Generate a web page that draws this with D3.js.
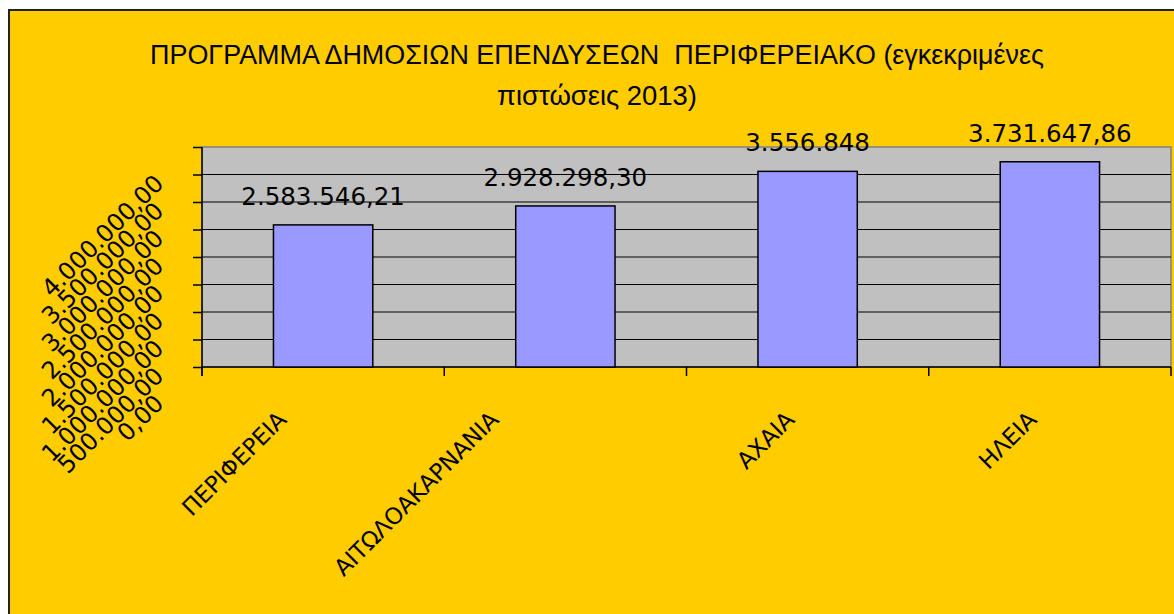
<!DOCTYPE html>
<html lang="el">
<head>
<meta charset="UTF-8">
<title>Πρόγραμμα Δημοσίων Επενδύσεων</title>
<script src="https://d3js.org/d3.v7.min.js"></script>
<style>
  html, body { margin: 0; padding: 0; background: #fff; }
  svg { display: block; }
</style>
</head>
<body>
<script>
// data
const categories = ["ΠΕΡΙΦΕΡΕΙΑ", "ΑΙΤΩΛΟΑΚΑΡΝΑΝΙΑ", "ΑΧΑΙΑ", "ΗΛΕΙΑ"];
const values = [2583546.21, 2928298.30, 3556848, 3731647.86];
const valueLabels = ["2.583.546,21", "2.928.298,30", "3.556.848", "3.731.647,86"];
const yTicks = [0, 500000, 1000000, 1500000, 2000000, 2500000, 3000000, 3500000, 4000000];
const titleLines = ["ΠΡΟΓΡΑΜΜΑ ΔΗΜΟΣΙΩΝ ΕΠΕΝΔΥΣΕΩΝ  ΠΕΡΙΦΕΡΕΙΑΚΟ (εγκεκριμένες", "πιστώσεις 2013)"];

const width = 1174, height = 614;
const plot = {left: 202, right: 1171, top: 147, bottom: 367};
const font = "'DejaVu Sans', sans-serif";

const gr = d3.formatLocale({decimal: ",", thousands: ".", grouping: [3], currency: ["", " €"]});
const fmt = gr.format(",.2f");

const svg = d3.select("body").append("svg")
    .attr("width", width)
    .attr("height", height);

// chart area
svg.append("rect")
    .attr("x", 9).attr("y", 10)
    .attr("width", width + 20).attr("height", height + 20)
    .attr("fill", "#FFCC00")
    .attr("stroke", "#222")
    .attr("stroke-width", 2);

// title
svg.append("text")
    .attr("x", 597).attr("y", 64)
    .attr("text-anchor", "middle")
    .attr("font-family", "'Liberation Sans', sans-serif")
    .attr("font-size", 27)
    .attr("textLength", 894)
    .attr("lengthAdjust", "spacingAndGlyphs")
    .style("white-space", "pre")
    .text(titleLines[0]);
svg.append("text")
    .attr("x", 597).attr("y", 105)
    .attr("text-anchor", "middle")
    .attr("font-family", "'Liberation Sans', sans-serif")
    .attr("font-size", 27)
    .attr("textLength", 200)
    .attr("lengthAdjust", "spacingAndGlyphs")
    .text(titleLines[1]);

const x = d3.scaleBand()
    .domain(categories)
    .range([plot.left, plot.right])
    .paddingInner(0.59)
    .paddingOuter(0.295);

const y = d3.scaleLinear()
    .domain([0, 4000000])
    .range([plot.bottom, plot.top]);

// plot background
svg.append("rect")
    .attr("x", plot.left).attr("y", plot.top)
    .attr("width", plot.right - plot.left)
    .attr("height", plot.bottom - plot.top)
    .attr("fill", "#C0C0C0")
    .attr("stroke", "#808080")
    .attr("stroke-width", 1.5);

// gridlines
svg.append("g")
    .selectAll("line")
    .data(yTicks.slice(1, -1))
    .join("line")
    .attr("x1", plot.left).attr("x2", plot.right)
    .attr("y1", d => y(d)).attr("y2", d => y(d))
    .attr("stroke", "#000")
    .attr("stroke-width", 1);

// y axis
const yAxis = svg.append("g")
    .attr("transform", `translate(${plot.left},0)`)
    .call(d3.axisLeft(y).tickValues(yTicks).tickSize(9).tickFormat(""));
yAxis.select(".domain").attr("stroke", "#000").attr("stroke-width", 1.5)
    .attr("d", `M0,${plot.top}V${plot.bottom + 9}`);
yAxis.selectAll(".tick line").attr("stroke", "#000").attr("stroke-width", 1.5);

svg.append("g")
    .selectAll("text")
    .data(yTicks)
    .join("text")
    .attr("transform", d => `translate(${plot.left - 37},${y(d) + 38}) rotate(-45)`)
    .attr("text-anchor", "end")
    .attr("font-family", font)
    .attr("font-size", 24)
    .attr("fill", "#000")
    .text(d => fmt(d));

// x axis
const step = x.step();
const bounds = d3.range(categories.length + 1).map(i => plot.left + i * step);
svg.append("line")
    .attr("x1", plot.left).attr("x2", plot.right)
    .attr("y1", plot.bottom).attr("y2", plot.bottom)
    .attr("stroke", "#000").attr("stroke-width", 1.5);
svg.append("g")
    .selectAll("line")
    .data(bounds)
    .join("line")
    .attr("x1", d => d).attr("x2", d => d)
    .attr("y1", plot.bottom).attr("y2", plot.bottom + 9)
    .attr("stroke", "#000").attr("stroke-width", 1.5);

// bars
svg.append("g")
    .selectAll("rect")
    .data(values)
    .join("rect")
    .attr("x", (d, i) => x(categories[i]))
    .attr("y", d => y(d))
    .attr("width", x.bandwidth())
    .attr("height", d => y(0) - y(d))
    .attr("fill", "#9999FF")
    .attr("stroke", "#000")
    .attr("stroke-width", 1.5);

// value labels
svg.append("g")
    .selectAll("text")
    .data(values)
    .join("text")
    .attr("x", (d, i) => x(categories[i]) + x.bandwidth() / 2)
    .attr("y", d => y(d) - 20)
    .attr("text-anchor", "middle")
    .attr("font-family", font)
    .attr("font-size", 24.5)
    .attr("fill", "#000")
    .text((d, i) => valueLabels[i]);

// category labels, rotated, end point placed relative to band centre
const catLabels = svg.append("g")
    .selectAll("text")
    .data(categories)
    .join("text")
    .attr("text-anchor", "end")
    .attr("font-family", font)
    .attr("font-size", 23)
    .attr("fill", "#000")
    .text(d => d);
catLabels.each(function(d) {
    const L = this.getComputedTextLength();
    const px = x(d) + x.bandwidth() / 2 + 13 - L * 0.354;
    const py = plot.bottom + 54;
    d3.select(this).attr("transform", `translate(${px},${py}) rotate(-45)`);
});
</script>
</body>
</html>
